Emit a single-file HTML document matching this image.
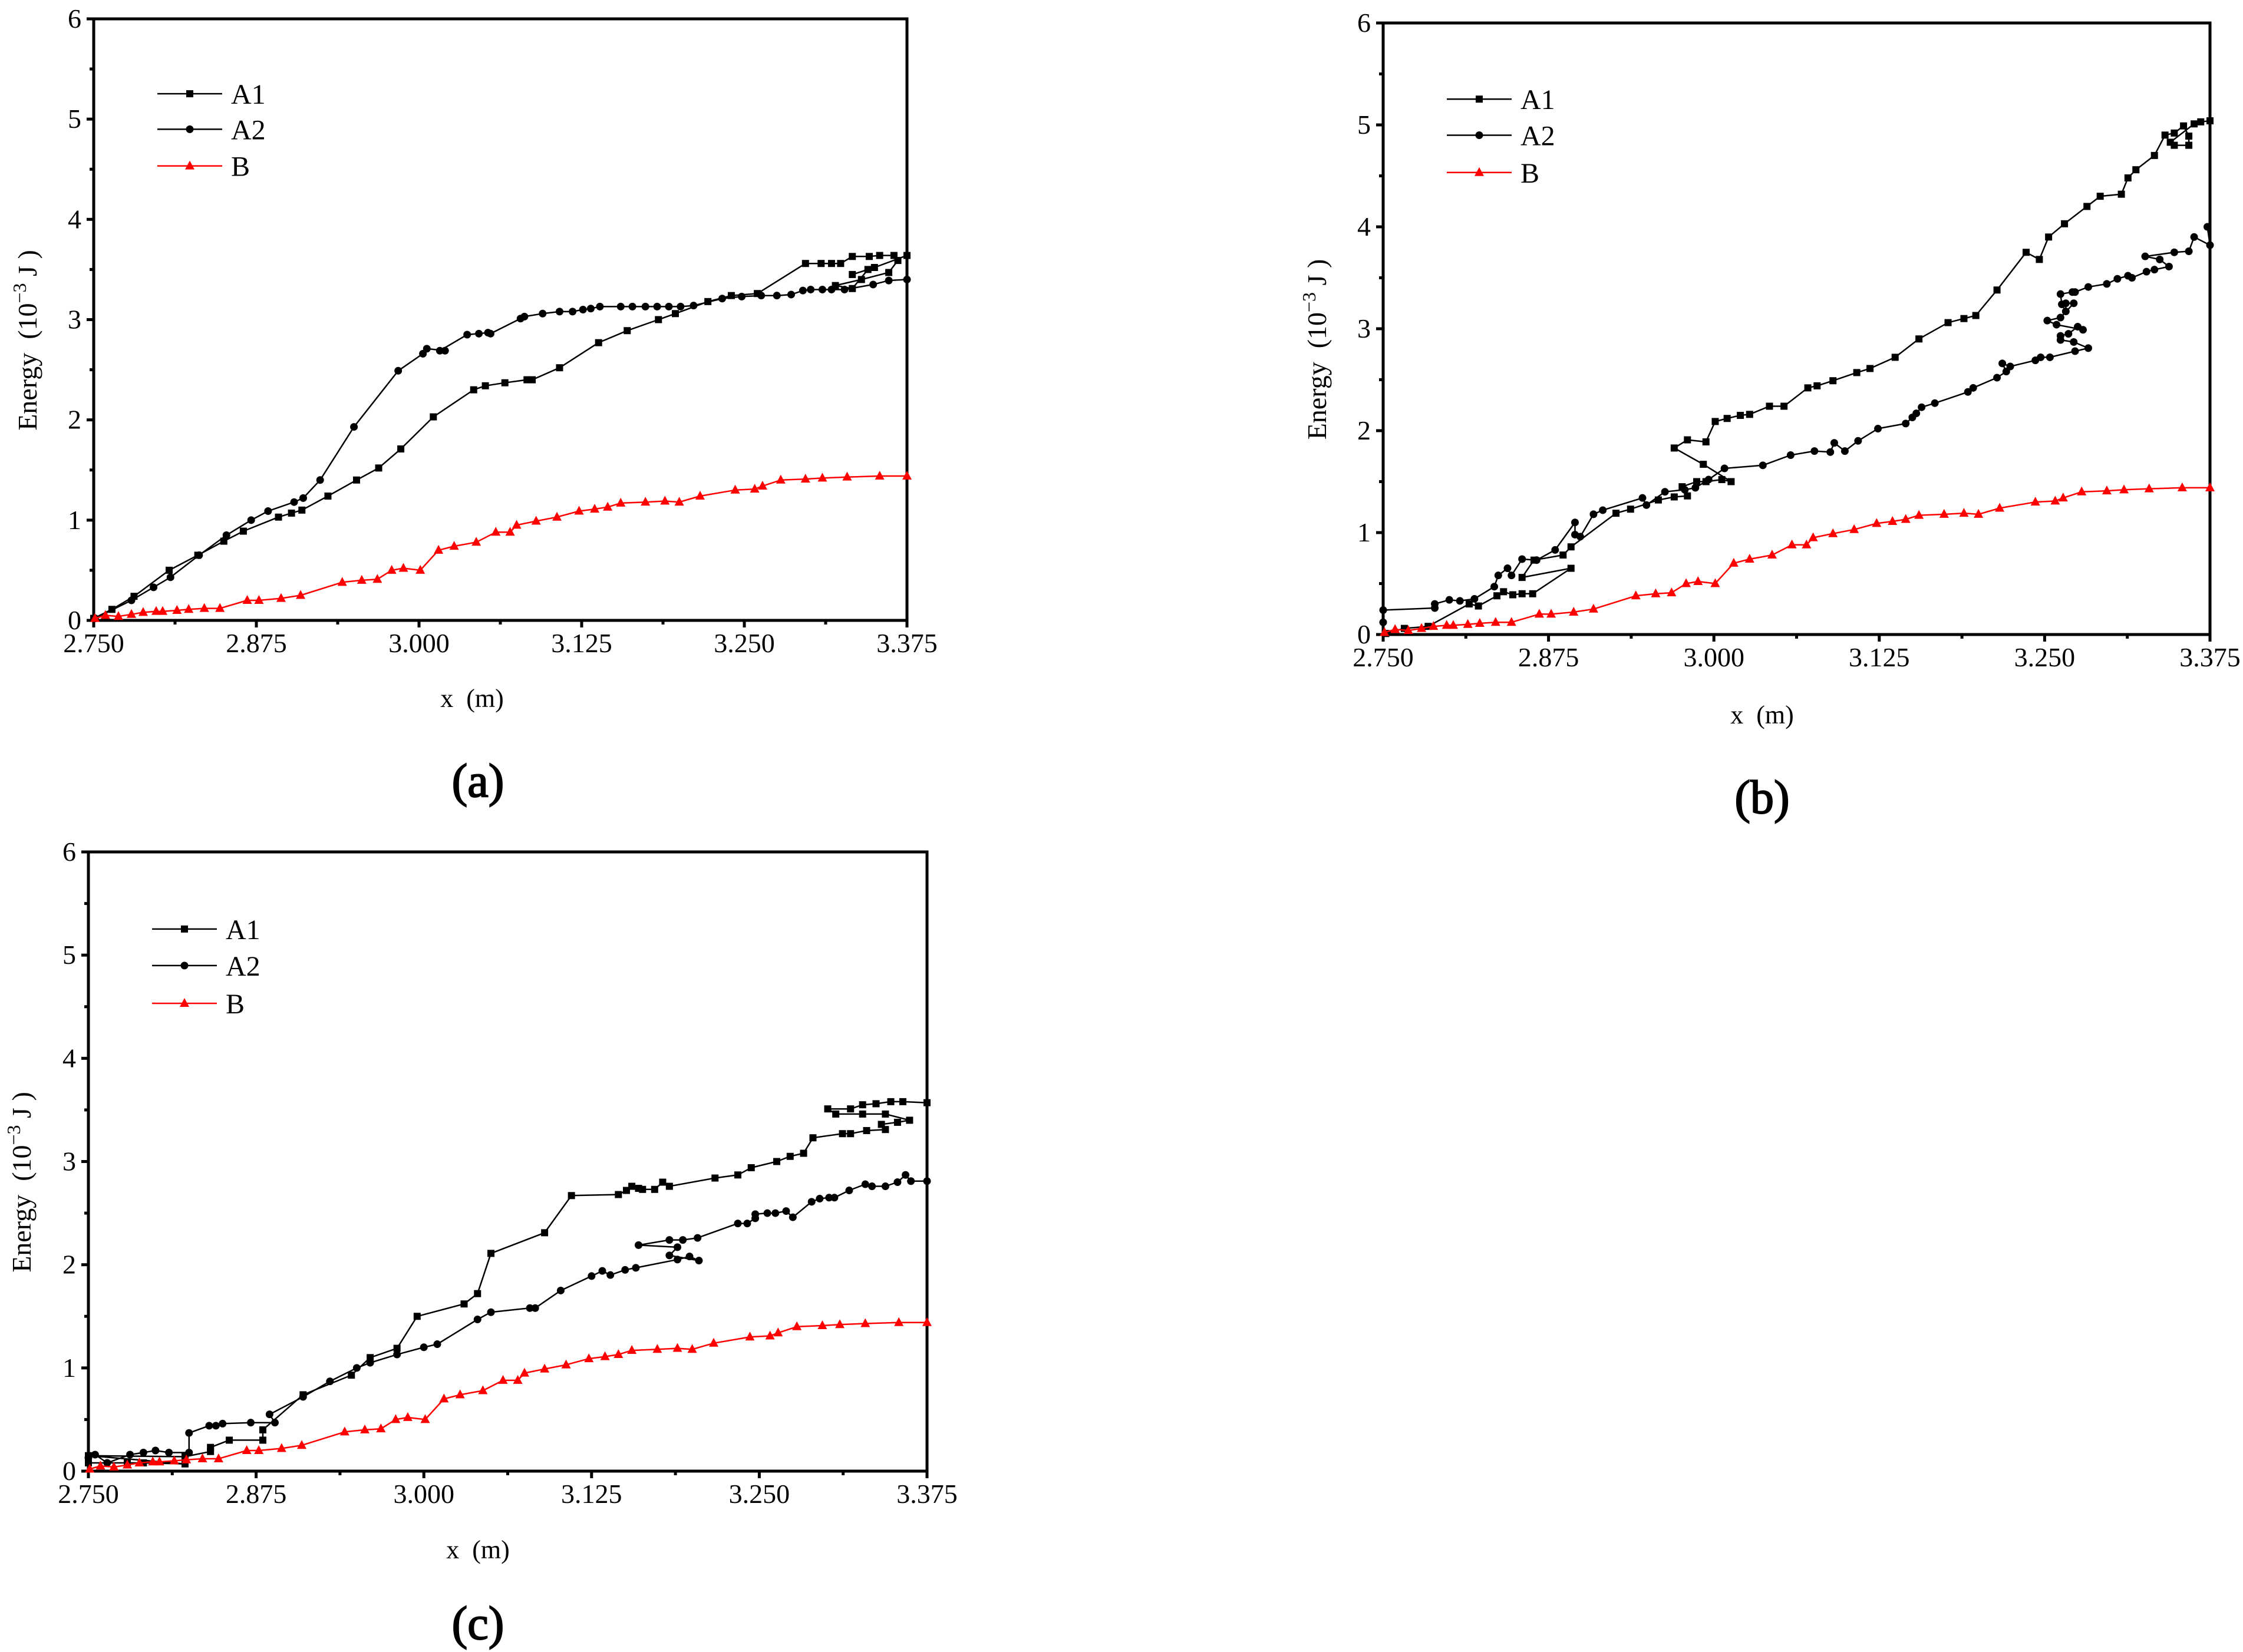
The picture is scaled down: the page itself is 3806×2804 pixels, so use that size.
<!DOCTYPE html>
<html><head><meta charset="utf-8"><style>
html,body{margin:0;padding:0;background:#fff;}
svg{display:block;font-family:"Liberation Serif","DejaVu Serif",serif;}
text{font-family:"Liberation Serif","DejaVu Serif",serif;}
</style></head><body>
<svg id="fig" width="3806" height="2804" viewBox="0 0 3806 2804" xmlns="http://www.w3.org/2000/svg" font-family="Liberation Serif, DejaVu Serif, serif"></svg>
<script>
// ---------- DATA ----------
const xTicks = [2.750, 2.875, 3.000, 3.125, 3.250, 3.375];
const xTickLabels = ["2.750","2.875","3.000","3.125","3.250","3.375"];
const yTicks = [0,1,2,3,4,5,6];
const yTickLabels = ["0","1","2","3","4","5","6"];
const seriesNames = ["A1","A2","B"];

const bX = [2.751,2.759,2.769,2.779,2.788,2.798,2.803,2.814,2.823,2.835,2.847,2.868,2.877,2.894,2.909,2.941,2.956,2.968,2.979,2.988,3.001,3.015,3.027,3.044,3.059,3.070,3.075,3.090,3.106,3.123,3.135,3.145,3.155,3.174,3.189,3.200,3.216,3.243,3.258,3.264,3.278,3.297,3.310,3.329,3.354,3.375];
const bY = [0.02,0.05,0.04,0.06,0.08,0.09,0.09,0.10,0.11,0.12,0.12,0.20,0.20,0.22,0.25,0.38,0.40,0.41,0.50,0.52,0.50,0.70,0.74,0.78,0.88,0.88,0.95,0.99,1.03,1.09,1.11,1.13,1.17,1.18,1.19,1.18,1.24,1.30,1.31,1.34,1.40,1.41,1.42,1.43,1.44,1.44];

const aA1X = [2.750,2.764,2.781,2.808,2.830,2.850,2.865,2.892,2.902,2.910,2.930,2.952,2.969,2.986,3.011,3.042,3.051,3.066,3.083,3.087,3.108,3.138,3.160,3.184,3.197,3.222,3.240,3.260,3.297,3.309,3.317,3.324,3.333,3.346,3.354,3.365,3.368,3.361,3.340,3.320,3.333,3.345,3.333,3.350,3.375];
const aA1Y = [0.02,0.11,0.24,0.50,0.65,0.79,0.89,1.03,1.07,1.10,1.24,1.40,1.52,1.71,2.03,2.30,2.34,2.37,2.40,2.40,2.52,2.77,2.89,3.00,3.06,3.18,3.24,3.26,3.56,3.56,3.56,3.56,3.63,3.63,3.64,3.64,3.59,3.47,3.40,3.34,3.31,3.50,3.45,3.52,3.64];
const aA2X = [2.751,2.779,2.796,2.809,2.831,2.852,2.871,2.884,2.904,2.911,2.924,2.950,2.984,3.003,3.006,3.020,3.016,3.037,3.046,3.053,3.055,3.078,3.081,3.095,3.108,3.118,3.126,3.132,3.139,3.155,3.164,3.174,3.183,3.192,3.201,3.211,3.233,3.248,3.263,3.275,3.286,3.295,3.301,3.310,3.317,3.327,3.349,3.361,3.375];
const aA2Y = [0.02,0.20,0.33,0.43,0.65,0.85,1.00,1.09,1.18,1.22,1.40,1.93,2.49,2.66,2.71,2.69,2.69,2.85,2.86,2.87,2.86,3.01,3.03,3.06,3.08,3.08,3.10,3.11,3.13,3.13,3.13,3.13,3.13,3.13,3.13,3.14,3.21,3.23,3.24,3.24,3.25,3.29,3.30,3.30,3.30,3.30,3.35,3.39,3.40];

const bA1X = [2.752,2.766,2.784,2.815,2.822,2.836,2.841,2.848,2.855,2.863,2.892,2.855,2.864,2.886,2.892,2.926,2.937,2.958,2.970,2.980,2.976,2.987,2.994,3.006,3.013,2.992,2.970,2.980,2.994,3.001,3.010,3.020,3.027,3.042,3.053,3.071,3.078,3.090,3.108,3.118,3.137,3.155,3.177,3.189,3.198,3.214,3.236,3.246,3.253,3.265,3.282,3.292,3.308,3.313,3.319,3.333,3.341,3.348,3.355,3.359,3.359,3.348,3.345,3.363,3.368,3.375];
const bA1Y = [0.01,0.06,0.08,0.30,0.28,0.38,0.42,0.39,0.40,0.40,0.65,0.56,0.73,0.78,0.86,1.19,1.23,1.32,1.35,1.36,1.45,1.50,1.50,1.52,1.50,1.67,1.83,1.91,1.89,2.09,2.12,2.15,2.16,2.24,2.24,2.42,2.44,2.49,2.57,2.61,2.72,2.90,3.06,3.10,3.13,3.38,3.75,3.68,3.90,4.03,4.20,4.30,4.32,4.48,4.56,4.70,4.90,4.92,4.99,4.89,4.80,4.80,4.83,5.01,5.03,5.04];
const bA2X = [2.750,2.750,2.789,2.789,2.800,2.808,2.819,2.834,2.837,2.844,2.847,2.855,2.866,2.880,2.895,2.895,2.899,2.909,2.916,2.946,2.949,2.963,2.978,2.986,2.996,3.008,3.037,3.058,3.076,3.088,3.091,3.099,3.109,3.124,3.145,3.150,3.153,3.157,3.167,3.192,3.196,3.214,3.221,3.218,3.224,3.243,3.247,3.254,3.273,3.283,3.272,3.262,3.262,3.268,3.275,3.279,3.259,3.252,3.262,3.272,3.266,3.266,3.263,3.262,3.271,3.273,3.283,3.297,3.305,3.313,3.316,3.327,3.333,3.344,3.337,3.326,3.348,3.359,3.363,3.375,3.373];
const bA2Y = [0.12,0.24,0.26,0.30,0.34,0.33,0.35,0.47,0.58,0.65,0.58,0.74,0.73,0.83,1.10,0.98,0.96,1.18,1.22,1.34,1.27,1.40,1.42,1.44,1.52,1.63,1.66,1.76,1.80,1.79,1.88,1.80,1.90,2.02,2.07,2.13,2.17,2.23,2.27,2.38,2.42,2.52,2.58,2.66,2.63,2.69,2.72,2.72,2.78,2.81,2.87,2.89,2.93,2.95,3.02,2.99,3.04,3.08,3.11,3.25,3.25,3.17,3.24,3.34,3.36,3.36,3.41,3.44,3.49,3.52,3.50,3.56,3.58,3.61,3.68,3.71,3.75,3.76,3.90,3.82,4.00];

const cA1X = [2.750,2.779,2.791,2.822,2.750,2.822,2.841,2.841,2.855,2.880,2.880,2.910,2.946,2.960,2.980,2.995,3.030,3.040,3.050,3.090,3.110,3.145,3.151,3.155,3.160,3.163,3.172,3.178,3.183,3.217,3.234,3.244,3.263,3.273,3.283,3.290,3.312,3.318,3.330,3.344,3.341,3.353,3.362,3.344,3.327,3.307,3.301,3.318,3.327,3.337,3.348,3.357,3.375];
const cA1Y = [0.08,0.08,0.08,0.07,0.15,0.14,0.19,0.23,0.30,0.30,0.40,0.74,0.93,1.10,1.19,1.50,1.62,1.72,2.11,2.31,2.67,2.68,2.72,2.76,2.74,2.73,2.73,2.80,2.76,2.84,2.87,2.94,3.00,3.05,3.08,3.23,3.27,3.27,3.30,3.31,3.36,3.38,3.40,3.46,3.46,3.46,3.51,3.51,3.55,3.56,3.58,3.58,3.57];
const cA2X = [2.750,2.755,2.764,2.781,2.791,2.800,2.810,2.825,2.825,2.840,2.845,2.850,2.871,2.889,2.885,2.910,2.930,2.950,2.960,2.980,3.000,3.010,3.040,3.050,3.079,3.083,3.102,3.125,3.133,3.139,3.150,3.158,3.189,3.198,3.205,3.183,3.189,3.160,3.183,3.193,3.204,3.234,3.241,3.247,3.247,3.256,3.262,3.270,3.275,3.289,3.295,3.302,3.306,3.317,3.329,3.334,3.344,3.353,3.359,3.363,3.375];
const cA2Y = [0.13,0.16,0.08,0.16,0.18,0.20,0.18,0.18,0.37,0.44,0.44,0.46,0.47,0.47,0.55,0.72,0.87,1.00,1.05,1.13,1.20,1.23,1.47,1.54,1.58,1.58,1.75,1.89,1.94,1.90,1.95,1.97,2.05,2.08,2.04,2.09,2.17,2.19,2.24,2.24,2.26,2.40,2.40,2.45,2.49,2.50,2.50,2.52,2.46,2.61,2.64,2.65,2.65,2.72,2.78,2.76,2.76,2.80,2.87,2.81,2.81];

// ---------- DRAW ----------
const NS = "http://www.w3.org/2000/svg";
const FF = '"Liberation Serif", "DejaVu Serif", serif';
const svg = document.getElementById('fig');
function mk(tag, attrs, parent){
  const e = document.createElementNS(NS, tag);
  for (const k in attrs) e.setAttribute(k, attrs[k]);
  if (tag==='text') e.style.fontFamily = FF;
  (parent||svg).appendChild(e);
  return e;
}
const panels = [
  {id:'a', L:159, R:1539, T:32, B:1053, A1x:aA1X, A1y:aA1Y, A2x:aA2X, A2y:aA2Y, label:'(a)', lx:811, ly:1352, xtx:801, xty:1200, eyx:62},
  {id:'b', L:2347, R:3750, T:39, B:1077, A1x:bA1X, A1y:bA1Y, A2x:bA2X, A2y:bA2Y, label:'(b)', lx:2990, ly:1380, xtx:2990, xty:1228, eyx:2250},
  {id:'c', L:150, R:1573, T:1446, B:2497, A1x:cA1X, A1y:cA1Y, A2x:cA2X, A2y:cA2Y, label:'(c)', lx:811, ly:2782, xtx:811, xty:2645, eyx:52}
];
panels.forEach(p=>{
  const g = mk('g',{});
  
  
  const sx = v => p.L + (v-2.75)/(3.375-2.75)*(p.R-p.L);
  const sy = v => p.B - v/6*(p.B-p.T);
  const tg = mk('g',{stroke:'#000','stroke-width':5},g);
  xTicks.forEach((t,i)=>{
    mk('line',{x1:sx(t),x2:sx(t),y1:p.B,y2:p.B+12},tg);
    if(i<xTicks.length-1){const m=(t+xTicks[i+1])/2; mk('line',{x1:sx(m),x2:sx(m),y1:p.B,y2:p.B+7},tg);}
    const tx = mk('text',{x:sx(t),y:p.B+54,'font-size':46,'text-anchor':'middle',fill:'#000',stroke:'none'},g);
    tx.textContent = xTickLabels[i];
    
    
  });
  yTicks.forEach((t,i)=>{
    mk('line',{x1:p.L-12,x2:p.L,y1:sy(t),y2:sy(t)},tg);
    if(i<yTicks.length-1){mk('line',{x1:p.L-7,x2:p.L,y1:sy(t+0.5),y2:sy(t+0.5)},tg);}
    const ty = mk('text',{x:p.L-21,y:sy(t)+15,'font-size':46,'text-anchor':'end',fill:'#000'},g);
    ty.textContent = yTickLabels[i];
    
    
  });
  const fr = mk('rect',{x:p.L,y:p.T,width:p.R-p.L,height:p.B-p.T,fill:'none',stroke:'#000','stroke-width':5},g);
  
  
  function series(xs, ys, color, marker, name){
    const sg = mk('g',{},g);
    
    
    const pts = xs.map((x,i)=>sx(x).toFixed(1)+','+sy(ys[i]).toFixed(1)).join(' ');
    mk('polyline',{points:pts,fill:'none',stroke:color,'stroke-width':2.5,'stroke-linejoin':'round'},sg);
    xs.forEach((x,i)=>drawMarker(sg, sx(x), sy(ys[i]), marker, color));
  }
  series(p.A1x,p.A1y,'#000','sq','A1');
  series(p.A2x,p.A2y,'#000','ci','A2');
  series(bX,bY,'#ff0000','tri','B');
  const lgH = p.B-p.T;
  const lg = mk('g',{},g);
  
  
  const offs=[0.1245,0.1835,0.2445];
  const lcol=['#000','#000','#ff0000'], lmk=['sq','ci','tri'];
  seriesNames.forEach((n,i)=>{
    const y = p.T + offs[i]*lgH;
    const e = mk('g',{},lg);
    
    
    mk('line',{x1:p.L+108,x2:p.L+218,y1:y,y2:y,stroke:lcol[i],'stroke-width':2.5},e);
    drawMarker(e,p.L+163,y,lmk[i],lcol[i]);
    const t = mk('text',{x:p.L+233,y:y+17,'font-size':48,fill:'#000'},e);
    t.textContent = n;
  });
  const xt = mk('text',{x:p.xtx,y:p.xty,'font-size':44,'text-anchor':'middle',fill:'#000'},g);
  xt.textContent = 'x\u2002(m)';
  
  
  const cy = (p.T+p.B)/2 + 35;
  const yt = mk('text',{x:0,y:0,'font-size':46,'text-anchor':'middle',fill:'#000',transform:`translate(${p.eyx},${cy}) rotate(-90)`},g);
  
  
  yt.innerHTML = 'Energy\u2002(10<tspan dy="-18" font-size="32">\u22123</tspan><tspan dy="18"> J )</tspan>';
  const pl = mk('text',{x:p.lx,y:p.ly,'font-size':80,'text-anchor':'middle','font-weight':'normal',fill:'#000',stroke:'#000','stroke-width':2},g);
  pl.textContent = p.label;
  
  
});
function drawMarker(parent,x,y,type,color){
  if(type==='sq') mk('rect',{x:x-6,y:y-6,width:12,height:12,fill:color},parent);
  else if(type==='ci') mk('circle',{cx:x,cy:y,r:6.5,fill:color},parent);
  else mk('polygon',{points:`${x},${y-9} ${x-8},${y+6} ${x+8},${y+6}`,fill:color},parent);
}
</script>
</body></html>
